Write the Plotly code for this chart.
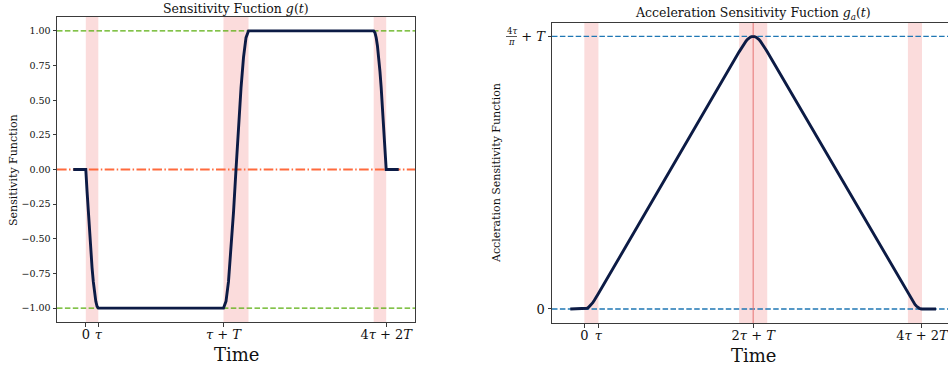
import plotly.graph_objects as go

# ---------------- data ----------------
# left: sensitivity function g(t)  (tau = 1, T = 10)
t_g = [-1, 0, 0.1, 0.2, 0.3, 0.4, 0.5, 0.6, 0.7, 0.8, 0.9, 1.0,
       11, 11.2, 11.4, 11.6, 11.8, 12, 12.2, 12.4, 12.6, 12.8, 13,
       23, 23.1, 23.2, 23.3, 23.4, 23.5, 23.6, 23.7, 23.8, 23.9, 24, 25]
g_vals = [0, 0, -0.156, -0.309, -0.454, -0.588, -0.707, -0.809, -0.891, -0.951, -0.988, -1.0,
          -1.0, -0.951, -0.809, -0.588, -0.309, 0.0, 0.309, 0.588, 0.809, 0.951, 1.0,
          1.0, 0.988, 0.951, 0.891, 0.809, 0.707, 0.588, 0.454, 0.309, 0.156, 0.0, 0.0]

# right: acceleration sensitivity function g_a(t)
t_ga = [-1, 0, 0.1, 0.2, 0.3, 0.4, 0.5, 0.6, 0.7, 0.8, 0.9, 1.0,
        11, 11.1, 11.2, 11.3, 11.4, 11.5, 11.6, 11.7, 11.8, 11.9, 12,
        12.1, 12.2, 12.3, 12.4, 12.5, 12.6, 12.7, 12.8, 12.9, 13,
        23, 23.1, 23.2, 23.3, 23.4, 23.5, 23.6, 23.7, 23.8, 23.9, 24, 25]
ga_vals = [0, 0, 0.008, 0.031, 0.070, 0.122, 0.186, 0.262, 0.347, 0.440, 0.537, 0.637,
           10.637, 10.736, 10.834, 10.926, 11.011, 11.087, 11.152, 11.204, 11.242, 11.266, 11.273,
           11.266, 11.242, 11.204, 11.152, 11.087, 11.011, 10.926, 10.834, 10.736, 10.637,
           0.637, 0.537, 0.440, 0.347, 0.262, 0.186, 0.122, 0.070, 0.031, 0.008, 0.0, 0.0]

# shaded pulse intervals
spans_left = [(0, 1), (11, 13), (23, 24)]
spans_right = [(0, 1), (11, 13), (23, 24)]

left_xticks = [0, 1, 11, 24]
left_xlabels = ["0", "<i>τ</i>", "<i>τ</i> + <i>T</i>", "4<i>τ</i> + 2<i>T</i>"]
left_yticks = [-1.0, -0.75, -0.5, -0.25, 0.0, 0.25, 0.5, 0.75, 1.0]
left_ylabels = ["−1.00", "−0.75", "−0.50", "−0.25", "0.00", "0.25", "0.50", "0.75", "1.00"]

right_xticks = [0, 1, 12, 24]
right_xlabels = ["0", "<i>τ</i>", "2<i>τ</i> + <i>T</i>", "4<i>τ</i> + 2<i>T</i>"]
peak_val = 11.273
right_yticks = [0, peak_val]
right_ylabels = ["0", "+ <i>T</i>"]          # fraction 4τ/π drawn next to it
frac_num, frac_den = "4<i>τ</i>", "<i>π</i>"
mid_line = 12

# ---------------- styling ----------------
W, H = 948, 371
SERIF = "DejaVu Serif"
NAVY = "#0c1b45"
PINK = "#fbdcdc"
GREEN = "#5aae0e"
CORAL = "#ff6a3d"
BLUE = "#1f77b4"
SPINE = "#3a3a3a"
TXT = "#111111"

fig = go.Figure()

fig.add_trace(go.Scatter(x=t_g, y=g_vals, mode="lines", line=dict(color=NAVY, width=2.9),
                         xaxis="x", yaxis="y", showlegend=False, hoverinfo="skip"))
fig.add_trace(go.Scatter(x=t_ga, y=ga_vals, mode="lines", line=dict(color=NAVY, width=2.9),
                         xaxis="x2", yaxis="y2", showlegend=False, hoverinfo="skip"))

shapes = []
for a, b in spans_left:
    shapes.append(dict(type="rect", xref="x", yref="y domain", x0=a, x1=b, y0=0, y1=1,
                       fillcolor=PINK, line=dict(width=0), layer="below"))
for a, b in spans_right:
    shapes.append(dict(type="rect", xref="x2", yref="y2 domain", x0=a, x1=b, y0=0, y1=1,
                       fillcolor=PINK, line=dict(width=0), layer="below"))
# left reference lines
for yv in (1.0, -1.0):
    shapes.append(dict(type="line", xref="x domain", yref="y", x0=0, x1=1, y0=yv, y1=yv,
                       line=dict(color=GREEN, width=1.3, dash="5.5px,2.4px"), layer="below"))
shapes.append(dict(type="line", xref="x domain", yref="y", x0=0, x1=1, y0=0, y1=0,
                   line=dict(color=CORAL, width=1.8, dash="9.6px,2.4px,1.5px,2.4px"), layer="below"))
# right reference lines
for yv in (0, peak_val):
    shapes.append(dict(type="line", xref="x2 domain", yref="y2", x0=0, x1=1, y0=yv, y1=yv,
                       line=dict(color=BLUE, width=1.3, dash="5.5px,2.4px"), layer="below"))
shapes.append(dict(type="line", xref="x2", yref="y2 domain", x0=mid_line, x1=mid_line, y0=0, y1=1,
                   line=dict(color="#e57373", width=1), layer="below"))
# fraction bar of the 4τ/π tick label
shapes.append(dict(type="line", xref="paper", yref="paper", x0=506 / W, x1=517 / W,
                   y0=1 - 36.5 / H, y1=1 - 36.5 / H, line=dict(color=TXT, width=0.7)))

axis_common = dict(showgrid=False, zeroline=False, showline=True, linecolor=SPINE, linewidth=1,
                   ticks="outside", ticklen=3.5, tickcolor=SPINE, tickwidth=1, automargin=False,
                   ticklabeloverflow="allow")

fig.update_layout(
    width=W, height=H,
    margin=dict(l=0, r=0, t=0, b=0, pad=0),
    paper_bgcolor="white", plot_bgcolor="white",
    font=dict(family=SERIF, color=TXT),
    shapes=shapes,
    xaxis=dict(domain=[57 / W, 415 / W], range=[-2.3, 26.3], anchor="y", mirror=True,
               tickmode="array", tickvals=left_xticks, ticktext=left_xlabels, ticklabelstandoff=-3,
               tickfont=dict(size=13, family=SERIF), **axis_common),
    yaxis=dict(domain=[(H - 322) / H, (H - 17) / H], range=[-1.1, 1.1], anchor="x", mirror=True,
               tickmode="array", tickvals=left_yticks, ticktext=left_ylabels,
               tickfont=dict(size=9.5, family=SERIF), **axis_common),
    xaxis2=dict(domain=[552 / W, 1.0], range=[-2.3, 25.85], anchor="y2", mirror=True,
                tickmode="array", tickvals=right_xticks, ticktext=right_xlabels, ticklabelstandoff=-3,
                tickfont=dict(size=13, family=SERIF), **axis_common),
    yaxis2=dict(domain=[(H - 323) / H, (H - 23) / H], range=[-0.58, 11.83], anchor="x2", mirror=False,
                tickmode="array", tickvals=right_yticks, ticktext=right_ylabels,
                tickfont=dict(size=13, family=SERIF), **axis_common),
)

ann = [
    dict(text="Sensitivity Fuction <i>g</i>(<i>t</i>)", x=236 / W, y=1 - 8 / H, font=dict(size=12.5)),
    dict(text="Acceleration Sensitivity Fuction <i>g<sub>a</sub></i>(<i>t</i>)", x=753 / W, y=1 - 13 / H,
         font=dict(size=12.5)),
    dict(text="Time", x=236 / W, y=1 - 354 / H, font=dict(size=18)),
    dict(text="Time", x=753 / W, y=1 - 355 / H, font=dict(size=18)),
    dict(text="Sensitivity Function", x=13 / W, y=1 - 170 / H, textangle=-90, font=dict(size=11)),
    dict(text="Accleration Sensitivity Function", x=496 / W, y=1 - 173 / H, textangle=-90,
         font=dict(size=11)),
    dict(text=frac_num, x=511.5 / W, y=1 - 31.5 / H, font=dict(size=8.5)),
    dict(text=frac_den, x=511.5 / W, y=1 - 42 / H, font=dict(size=8.5)),
]
for a in ann:
    a.update(xref="paper", yref="paper", showarrow=False, xanchor="center", yanchor="middle")
    a["font"]["family"] = SERIF
    a["font"]["color"] = TXT
fig.update_layout(annotations=ann)

fig.write_html("out.html", config={"displayModeBar": False},
               post_script="document.body.style.margin='0px';document.body.style.overflow='hidden';")
